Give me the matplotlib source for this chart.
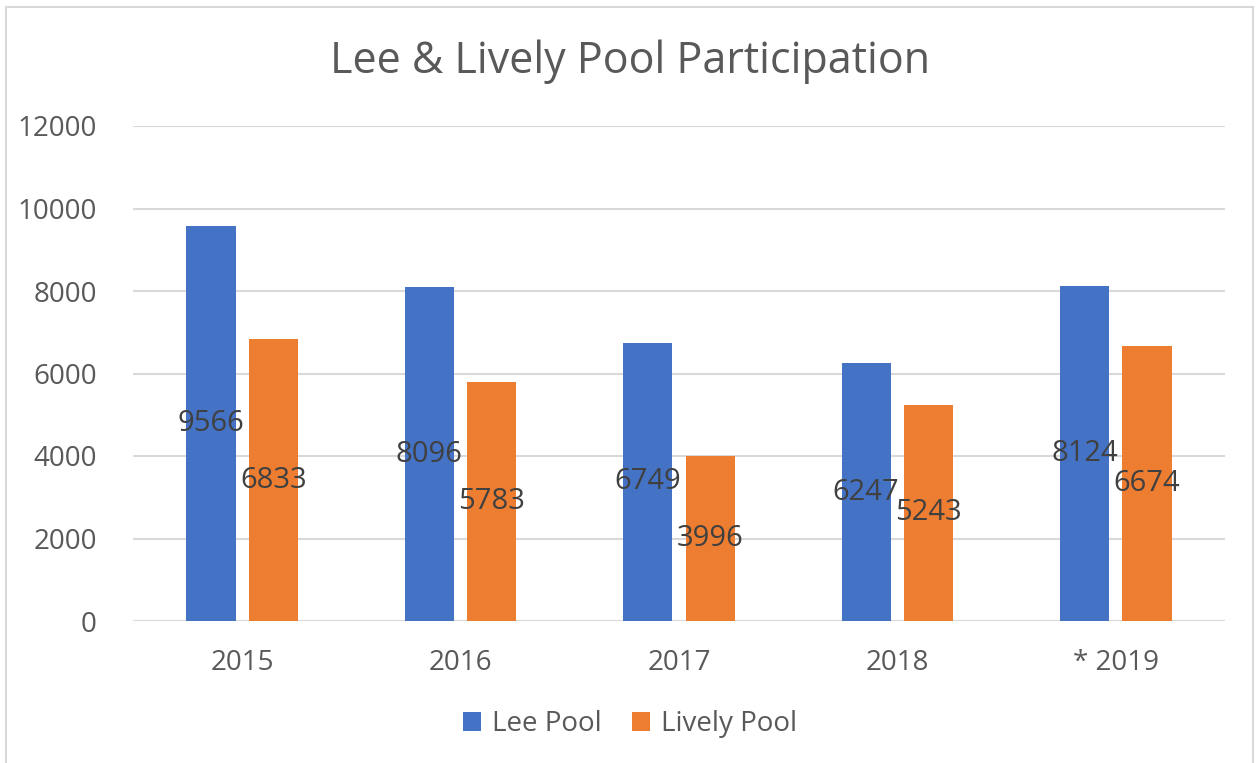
import numpy as np
import matplotlib.pyplot as plt
from matplotlib.patches import Rectangle

# data
years = ['2015', '2016', '2017', '2018', '* 2019']
lee_pool = [9566, 8096, 6749, 6247, 8124]
lively_pool = [6833, 5783, 3996, 5243, 6674]
y_ticks = [0, 2000, 4000, 6000, 8000, 10000, 12000]

plt.rcParams['font.family'] = ['Open Sans', 'DejaVu Sans']

fig = plt.figure(figsize=(12.56, 7.63), dpi=100)
ax = fig.add_axes([133 / 1256, 1 - 621 / 763, 1092 / 1256, 495 / 763])

# outer chart border like Excel
fig.patches.append(Rectangle((6 / 1256, -0.05), 1247 / 1256, 1 - 7 / 763 + 0.05,
                             transform=fig.transFigure, fill=False,
                             edgecolor='#D9D9D9', linewidth=1.5))

x = np.arange(len(years))
w = 0.225
b1 = ax.bar(x - 0.143, lee_pool, w, color='#4472C4', label='Lee Pool', zorder=3)
b2 = ax.bar(x + 0.143, lively_pool, w, color='#ED7D31', label='Lively Pool', zorder=3)

# labels sit in the middle of each bar
for bars in (b1, b2):
    for r in bars:
        h = r.get_height()
        ax.text(r.get_x() + r.get_width() / 2, h / 2, str(h), ha='center', va='center',
                fontsize=21, color='#404040', zorder=4)

ax.set_xlim(-0.5, len(years) - 0.5)
ax.set_ylim(0, 12000)
ax.set_yticks(y_ticks)
ax.set_xticks(x)
ax.set_xticklabels(years)
ax.yaxis.grid(True, color='#D9D9D9', linewidth=1.5, zorder=0)
for s in ax.spines.values():
    s.set_visible(False)
ax.tick_params(axis='both', length=0, labelsize=20, labelcolor='#595959')
ax.tick_params(axis='x', pad=20)
ax.tick_params(axis='y', pad=26)

fig.text(630 / 1256, 1 - 62 / 763, 'Lee & Lively Pool Participation', ha='center', va='center',
         fontsize=31, color='#595959')

fig.legend(loc='center', bbox_to_anchor=(630 / 1256, 1 - 724 / 763), ncol=2, frameon=False,
           fontsize=20, labelcolor='#595959', handlelength=0.65, handleheight=0.65,
           handletextpad=0.4, columnspacing=1.1)

fig.savefig('out.png', dpi=100)
